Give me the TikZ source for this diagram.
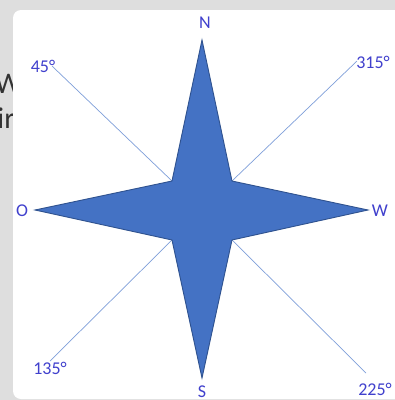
\documentclass[tikz,border=0pt]{standalone}
\usepackage{fontspec}
\setmainfont{Carlito}
\definecolor{bg}{HTML}{DEDEDE}
\definecolor{bgtext}{HTML}{333333}
\definecolor{lblc}{RGB}{64,64,205}
\definecolor{rayc}{HTML}{7F9FDA}
\definecolor{starfill}{HTML}{4472C4}
\definecolor{staredge}{HTML}{2F528F}
\begin{document}
\begin{tikzpicture}[x=1pt,y=-1pt,
  lbl/.style={text=lblc, font=\fontsize{18}{21}\selectfont, inner sep=0pt},
  bgtxt/.style={text=bgtext, font=\fontsize{30}{34}\selectfont, inner sep=0pt, anchor=east},
  ray/.style={draw=rayc, line width=0.7pt},
  star/.style={fill=starfill, draw=staredge, line width=0.9pt, line join=miter}]
\useasboundingbox (0,0) rectangle (395,400);
\fill[bg] (0,0) rectangle (395,400);
\node[bgtxt] (bgw) at (22,84) {W};
\node[bgtxt] (bgir) at (15,118) {ir};
\fill[white, rounded corners=8pt] (13,10) rectangle (430,399);
% star points
\coordinate (n) at (202,40);
\coordinate (s) at (202,378);
\coordinate (o) at (35,210);
\coordinate (w) at (368,210);
\coordinate (nw) at (172,181);
\coordinate (ne) at (232,181);
\coordinate (sw) at (172,240);
\coordinate (se) at (232,240);
% ray ends
\coordinate (rnw) at (52,66);
\coordinate (rne) at (357,61);
\coordinate (rsw) at (50,361);
\coordinate (rse) at (366,373);
\draw[ray] (nw) -- (rnw);
\draw[ray] (ne) -- (rne);
\draw[ray] (sw) -- (rsw);
\draw[ray] (se) -- (rse);
\filldraw[star] (n) -- (ne) -- (w) -- (se) -- (s) -- (sw) -- (o) -- (nw) -- cycle;
% labels
\node[lbl] (ln) at (205,23) {N};
\node[lbl] (lo) at (22,211) {O};
\node[lbl] (lw) at (380,211) {W};
\node[lbl] (ls) at (202,392) {S};
\node[lbl] (l45) at (43,66) {45°};
\node[lbl] (l315) at (373,62) {315°};
\node[lbl] (l135) at (50,368) {135°};
\node[lbl] (l225) at (375,389) {225°};
\end{tikzpicture}
\end{document}
